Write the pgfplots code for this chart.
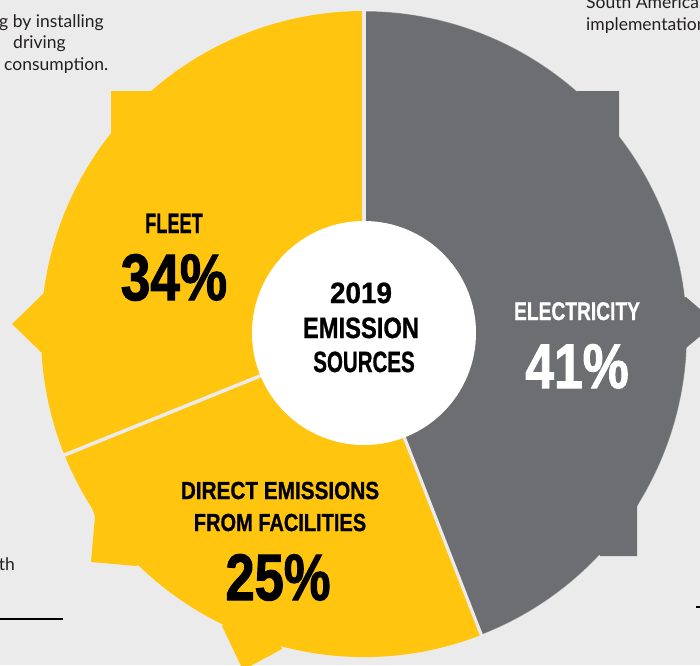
\documentclass[border=0pt]{standalone}
\usepackage{fontspec}
\setmainfont{Liberation Sans}
\newfontfamily\lato{Lato}
\newfontfamily\heavy[FakeBold=1.0]{Liberation Sans}
\newfontfamily\heavier[FakeBold=1.8]{Liberation Sans}
\usepackage{graphicx}
\usepackage{pgfplots}
\usepackage{pgfplotstable}
\pgfplotsset{compat=1.18}
\definecolor{bg}{HTML}{EBEBEB}
\definecolor{yel}{HTML}{FFC50F}
\definecolor{gry}{HTML}{6D6E72}
\definecolor{txt}{HTML}{231F20}
\newcommand\lab[3]{\heavy\fontsize{#1}{#1}\selectfont\bfseries\scalebox{#2}[1]{#3}}
\newcommand\biglab[3]{\heavier\fontsize{#1}{#1}\selectfont\bfseries\scalebox{#2}[1]{#3}}
% share (label), start and end angle of each wedge as drawn
\pgfplotstableread{
name pct start end
Electricity 41 -68.7 90
Fleet 34 90 202
Direct 25 202 291.3
}\pietable
\pgfplotstablegetelem{0}{pct}\of\pietable\edef\ePct{\pgfplotsretval}
\pgfplotstablegetelem{0}{start}\of\pietable\edef\eS{\pgfplotsretval}
\pgfplotstablegetelem{0}{end}\of\pietable\edef\eE{\pgfplotsretval}
\pgfplotstablegetelem{1}{pct}\of\pietable\edef\fPct{\pgfplotsretval}
\pgfplotstablegetelem{1}{start}\of\pietable\edef\fS{\pgfplotsretval}
\pgfplotstablegetelem{1}{end}\of\pietable\edef\fE{\pgfplotsretval}
\pgfplotstablegetelem{2}{pct}\of\pietable\edef\dPct{\pgfplotsretval}
\pgfplotstablegetelem{2}{start}\of\pietable\edef\dS{\pgfplotsretval}
\pgfplotstablegetelem{2}{end}\of\pietable\edef\dE{\pgfplotsretval}
\def\R{323pt}
\begin{document}
\begin{tikzpicture}
\begin{axis}[width=700pt,height=665pt,scale only axis,
  xmin=0,xmax=700,ymin=0,ymax=665,y dir=reverse,hide axis,clip=true]
\fill[bg] (axis cs:0,0) rectangle (axis cs:700,665);
% wedges
\fill[yel] (axis cs:364,334) -- ++(\fS:\R) arc[start angle=\fS,end angle=\fE,radius=\R] -- cycle;
\fill[yel] (axis cs:364,334) -- ++(\dS:\R) arc[start angle=\dS,end angle=\dE,radius=\R] -- cycle;
\fill[gry] (axis cs:364,334) -- ++(\eS:\R) arc[start angle=\eS,end angle=\eE,radius=\R] -- cycle;
\draw[white,opacity=0.45,line width=1pt] (axis cs:364,334) ++(\eS:\R) arc[start angle=\eS,end angle=\eE,radius=\R];
% protrusions
\addplot[fill=yel,draw=none] coordinates {(152,91) (111,91) (111,134) (180,200)} -- cycle;
\addplot[fill=gry,draw=none] coordinates {(577,91) (619,91) (619,136) (520,200)} -- cycle;
\addplot[fill=yel,draw=none] coordinates {(44,293) (12,324) (41,352) (120,324)} -- cycle;
\addplot[fill=gry,draw=none] coordinates {(686,297) (716,323) (686,348) (620,324)} -- cycle;
\addplot[fill=yel,draw=none] coordinates {(89,500) (95,516) (91,562) (137,566) (200,480)} -- cycle;
\addplot[fill=yel,draw=none] coordinates {(222,626) (243,670) (282,649) (260,580)} -- cycle;
\addplot[fill=gry,draw=none] coordinates {(640,500) (637,506) (637,556) (600,556) (560,470)} -- cycle;
% separators
\draw[bg,line width=3.5pt] (axis cs:364,334) -- ++(\fS:330pt);
\draw[bg,line width=3.5pt] (axis cs:364,334) -- ++(\dS:330pt);
\draw[bg,line width=3.2pt] (axis cs:364,334) -- ++(\dE:330pt);
% centre
\fill[white] (axis cs:364,333) circle[radius=112pt];
% labels
\node[anchor=base,text=black,inner sep=0pt] at (axis cs:361,303) {\lab{29.3}{0.95}{2019}};
\node[anchor=base,text=black,inner sep=0pt] at (axis cs:361,338) {\lab{29.3}{0.81}{EMISSION}};
\node[anchor=base,text=black,inner sep=0pt] at (axis cs:364,372) {\lab{29.3}{0.70}{SOURCES}};
\node[anchor=base,text=black,inner sep=0pt] at (axis cs:174,233) {\lab{28}{0.65}{FLEET}};
\node[anchor=base,text=black,inner sep=0pt] at (axis cs:174,300) {\biglab{65.6}{0.81}{\fPct\%}};
\node[anchor=base,text=white,inner sep=0pt] at (axis cs:577,320) {\lab{25.6}{0.75}{ELECTRICITY}};
\node[anchor=base,text=white,inner sep=0pt] at (axis cs:577,388) {\biglab{63}{0.82}{\ePct\%}};
\node[anchor=base,text=black,inner sep=0pt] at (axis cs:280,499) {\lab{24.7}{0.84}{DIRECT EMISSIONS}};
\node[anchor=base,text=black,inner sep=0pt] at (axis cs:280,531) {\lab{24.7}{0.81}{FROM FACILITIES}};
\node[anchor=base,text=black,inner sep=0pt] at (axis cs:278,600) {\biglab{65.6}{0.80}{\dPct\%}};
% surrounding text fragments
\node[anchor=base west,text=txt,inner sep=0pt,font=\lato\fontsize{17.5}{21}\selectfont] at (axis cs:-1,27) {g by installing};
\node[anchor=base west,text=txt,inner sep=0pt,font=\lato\fontsize{17.5}{21}\selectfont] at (axis cs:13,48) {driving};
\node[anchor=base west,text=txt,inner sep=0pt,font=\lato\fontsize{17.5}{21}\selectfont] at (axis cs:4,70) {consumption.};
\node[anchor=base west,text=txt,inner sep=0pt,font=\lato\fontsize{17.5}{21}\selectfont] at (axis cs:586,8) {South American};
\node[anchor=base west,text=txt,inner sep=0pt,font=\lato\fontsize{17.5}{21}\selectfont] at (axis cs:586,30) {implementation};
\node[anchor=base east,text=txt,inner sep=0pt,font=\lato\fontsize{17.5}{21}\selectfont] at (axis cs:15,570) {with};
\draw[black,line width=2pt] (axis cs:0,619) -- (axis cs:63,619);
\draw[black,line width=1.5pt] (axis cs:696,607) -- (axis cs:700,607);
\end{axis}
\pgfresetboundingbox
\path[use as bounding box] (current axis.south west) rectangle (current axis.north east);
\end{tikzpicture}
\end{document}
